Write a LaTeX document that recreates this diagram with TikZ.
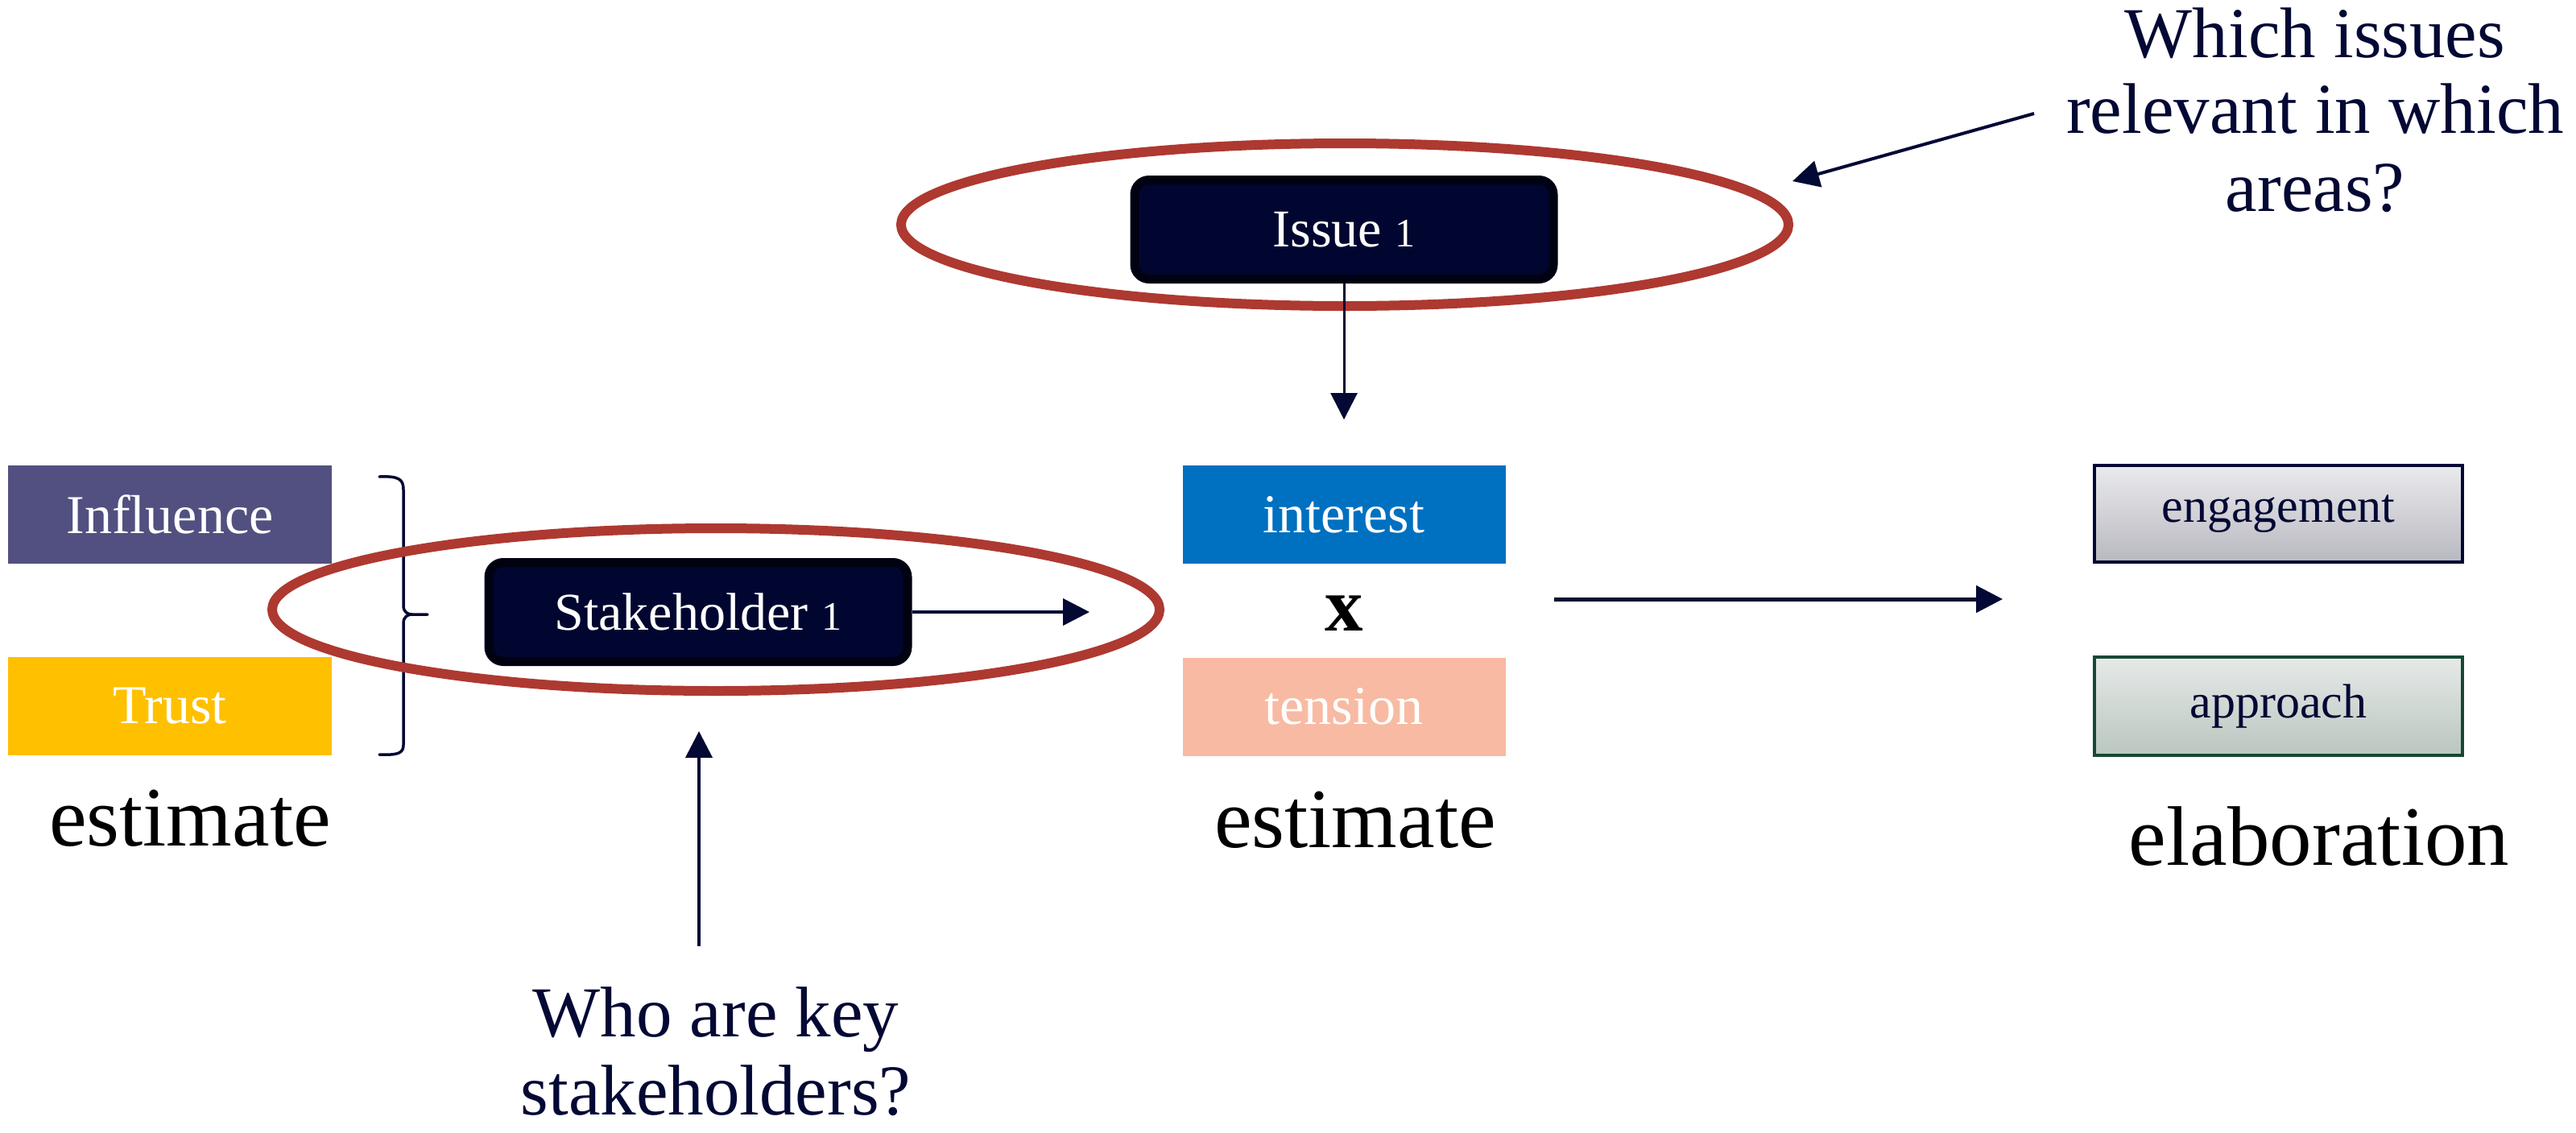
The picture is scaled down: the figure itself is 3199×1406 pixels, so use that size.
\documentclass[tikz,border=0pt]{standalone}
\usepackage{fontspec}
\setmainfont{Liberation Serif}
\usetikzlibrary{arrows.meta,shapes.geometric,backgrounds}

\definecolor{navy}{RGB}{3,8,52}
\definecolor{boxfill}{RGB}{1,6,48}
\definecolor{boxline}{RGB}{0,2,18}
\definecolor{ringred}{RGB}{174,57,48}
\definecolor{influencec}{RGB}{82,80,128}
\definecolor{trustc}{RGB}{255,192,0}
\definecolor{interestc}{RGB}{0,112,192}
\definecolor{tensionc}{RGB}{248,186,162}
\definecolor{engtop}{RGB}{234,234,237}
\definecolor{engbot}{RGB}{184,185,192}
\definecolor{apptop}{RGB}{230,234,232}
\definecolor{appbot}{RGB}{186,198,191}
\definecolor{appline}{RGB}{24,72,52}

\newcommand{\myfs}[1]{\fontsize{#1}{#1}\selectfont}
\newcommand{\osone}{\scalebox{0.76}{1}}

\tikzset{
  flatbox/.style={rectangle, inner sep=0pt, outer sep=0pt, text=white,
    minimum width=402pt, minimum height=122pt, font=\myfs{68}},
  darkbox/.style={rectangle, rounded corners=18pt, fill=boxfill, draw=boxline,
    line width=11pt, minimum width=520pt, minimum height=123pt, inner sep=0pt,
    text=white, font=\myfs{66}},
  ring/.style={ellipse, draw=ringred, line width=12pt, minimum width=1102pt,
    minimum height=202pt, inner sep=0pt},
  lightbox/.style={rectangle, line width=4pt, minimum width=457pt,
    minimum height=120pt, inner sep=0pt, text=navy, font=\myfs{60}},
  link/.style={navy, line width=4pt, -{Triangle[length=33pt,width=33pt]}},
  bigtext/.style={font=\myfs{105}, anchor=base, inner sep=0pt, text=black},
  qtext/.style={font=\myfs{89}, text=navy, anchor=base, inner sep=0pt},
}

\begin{document}
\begin{tikzpicture}[x=1pt,y=-1pt]
\useasboundingbox[fill=white] (0,0) rectangle (3199,1406);

% left column
\node[flatbox, fill=influencec] (influence) at (211,638.5) {Influence};
\node[flatbox, fill=trustc] (trust) at (211,876.5) {Trust};
\draw[navy, line width=3.5pt, line cap=round, line join=round]
  (471,592) .. controls (495,591) and (501,595) .. (501,608) -- (501,752)
  .. controls (501,760) and (506,763) .. (512,763) -- (531,763)
  (512,763) .. controls (506,763) and (501,766) .. (501,774) -- (501,925)
  .. controls (501,935) and (495,938) .. (471,937);
\node[bigtext] (est1) at (236,1050) {estimate};

% stakeholder
\node[darkbox] (stake) at (867,760) {Stakeholder \osone};
\node[ring] (ring1) at (889,757) {};
\coordinate (stakeend) at (1353,760);
\draw[link] (stake.east) -- (stakeend);

\coordinate (ustart) at (868,1175);
\coordinate (uend) at (868,908);
\draw[link] (ustart) -- (uend);
\node[qtext] (w1) at (889,1287) {Who are key};
\node[qtext] (w2) at (889,1384) {stakeholders?};

% issue
\node[darkbox] (issue) at (1669,285) {Issue \osone};
\node[ring] (ring2) at (1670,279) {};
\coordinate (issueend) at (1669,521);
\draw[link, line width=3pt] (issue.south) -- (issueend);

\node[qtext] (q1) at (2875,71) {Which issues};
\node[qtext] (q2) at (2875,165) {relevant in which};
\node[qtext] (q3) at (2875,262) {areas?};
\coordinate (qstart) at (2526,141);
\coordinate (qtip) at (2226,225);
\draw[link] (qstart) -- (qtip);

% middle column
\node[flatbox, fill=interestc, minimum width=401pt] (interest) at (1669,639) {interest};
\node[font=\myfs{95}\bfseries, anchor=base, inner sep=0pt] (times) at (1669,783) {x};
\node[flatbox, fill=tensionc, minimum width=401pt] (tension) at (1669,877.5) {tension};
\node[bigtext] (est2) at (1683,1052) {estimate};

\coordinate (bstart) at (1930,744);
\coordinate (bend) at (2487,744);
\draw[link, line width=5pt] (bstart) -- (bend);

% right column
\node[lightbox, top color=engtop, bottom color=engbot, draw=navy] (eng) at (2829.5,638) {engagement};
\node[lightbox, top color=apptop, bottom color=appbot, draw=appline, minimum height=122pt] (app) at (2829.5,877) {approach};
\node[bigtext] (elab) at (2880,1074) {elaboration};

\begin{scope}[on background layer]
\foreach \n in {eng,app}{
  \foreach \k in {0,2,...,10}{
    \fill[black, opacity=0.05, rounded corners=\k pt]
      ([xshift=-0.6*\k pt, yshift=-6pt-\k pt]\n.south west) rectangle
      ([xshift=0.6*\k pt, yshift=-6pt+\k pt]\n.north east);
  }
}
\end{scope}
\end{tikzpicture}
\end{document}
